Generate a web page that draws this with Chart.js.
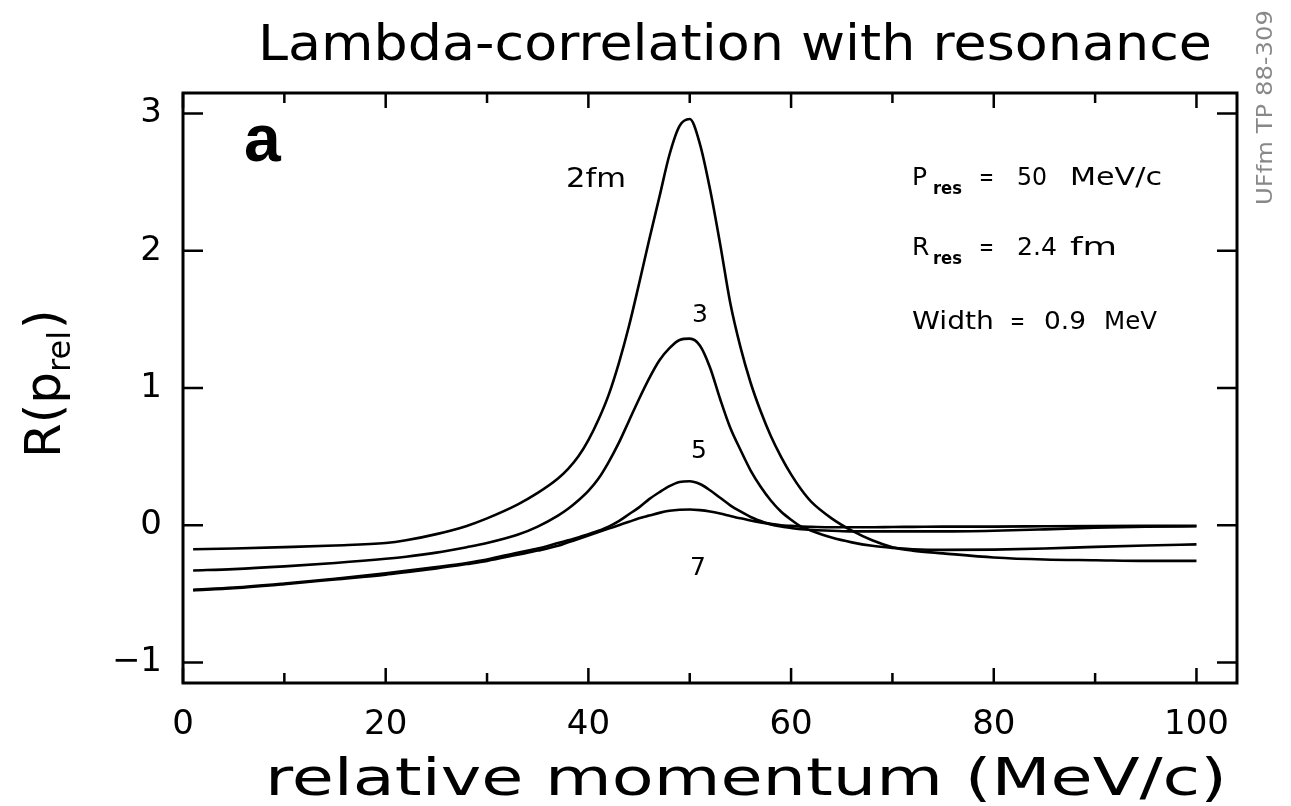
<!DOCTYPE html>
<html><head><meta charset="utf-8">
<script src="https://cdn.jsdelivr.net/npm/chart.js@4.4.1/dist/chart.umd.min.js"></script>
<style>html,body{margin:0;padding:0;background:#fff;}#wrap{width:1291px;height:806px;position:relative;}</style>
</head><body><div id="wrap"><canvas id="c"></canvas></div>
<script>
// ---- data ----
const momentum = [1,5,10,15,20,22,25,28,30,33,35,37,38,39,40,41,42,43,44,45,46,47,48,49,50,51,52,53,54,55,56,57,58,59,60,61,62,64,66,68,70,72,75,80,85,90,95,100];
const r2fm = [-0.175,-0.17,-0.16,-0.148,-0.13,-0.11,-0.065,-0.005,0.05,0.15,0.235,0.34,0.41,0.5,0.62,0.77,0.95,1.18,1.45,1.76,2.08,2.39,2.7,2.91,2.96,2.78,2.45,2.05,1.62,1.3,1.04,0.83,0.65,0.5,0.37,0.26,0.17,0.05,-0.04,-0.11,-0.16,-0.185,-0.205,-0.235,-0.25,-0.255,-0.26,-0.26];
const r3fm = [-0.33,-0.32,-0.3,-0.275,-0.245,-0.23,-0.2,-0.16,-0.13,-0.07,-0.01,0.07,0.12,0.18,0.25,0.34,0.46,0.6,0.76,0.92,1.07,1.2,1.29,1.35,1.36,1.31,1.15,0.92,0.71,0.55,0.4,0.28,0.18,0.1,0.04,-0.01,-0.04,-0.09,-0.125,-0.15,-0.165,-0.175,-0.18,-0.178,-0.17,-0.158,-0.148,-0.14];
const r5fm = [-0.47,-0.455,-0.425,-0.39,-0.35,-0.333,-0.305,-0.275,-0.25,-0.2,-0.17,-0.13,-0.11,-0.09,-0.065,-0.04,-0.01,0.03,0.08,0.13,0.19,0.24,0.285,0.315,0.32,0.3,0.255,0.2,0.145,0.1,0.06,0.03,0.005,-0.01,-0.02,-0.03,-0.035,-0.04,-0.045,-0.045,-0.045,-0.045,-0.045,-0.04,-0.03,-0.018,-0.01,-0.008];
const r7fm = [-0.475,-0.46,-0.43,-0.395,-0.36,-0.342,-0.315,-0.283,-0.26,-0.215,-0.185,-0.15,-0.125,-0.1,-0.075,-0.05,-0.025,0.0,0.025,0.05,0.07,0.09,0.105,0.113,0.115,0.11,0.1,0.085,0.067,0.05,0.035,0.02,0.01,0.0,-0.005,-0.01,-0.012,-0.015,-0.015,-0.015,-0.013,-0.012,-0.01,-0.01,-0.008,-0.006,-0.005,-0.005];
const seriesNames = ['2fm','3','5','7'];
const xTicks = [0,20,40,60,80,100];
const xMinorTicks = [10,30,50,70,90];
const yTicks = [-1,0,1,2,3];
const titleText = 'Lambda-correlation with resonance';
const xTitle = 'relative momentum (MeV/c)';
const sideNote = 'UFfm TP 88-309';

function pts(ys){ return momentum.map((x,i)=>({x:x,y:ys[i]})); }
function ds(name, ys){ return {label:name, data:pts(ys), borderColor:'#000', borderWidth:2.6, pointRadius:0, fill:false, cubicInterpolationMode:'monotone'}; }

function txt(ctx, s, x, y, o){
  ctx.save();
  ctx.font = o.font; ctx.fillStyle = o.color || '#000';
  ctx.textBaseline = o.baseline || 'alphabetic';
  ctx.textAlign = 'left';
  ctx.translate(x, y);
  if (o.rot) ctx.rotate(o.rot);
  let w = ctx.measureText(s).width, sx = 1;
  if (o.width) sx = o.width / w;
  ctx.scale(sx, 1);
  let dx = 0;
  if (o.align === 'center') dx = -w/2; else if (o.align === 'right') dx = -w;
  ctx.fillText(s, dx, 0);
  ctx.restore();
}

const decor = {
  id:'decor',
  afterDraw(chart){
    const ctx = chart.ctx, a = chart.chartArea, xs = chart.scales.x, ys = chart.scales.y;
    ctx.save();
    ctx.strokeStyle = '#000'; ctx.lineWidth = 3;
    ctx.strokeRect(a.left, a.top, a.right - a.left, a.bottom - a.top);
    ctx.lineWidth = 2.5;
    ctx.beginPath();
    xTicks.forEach(v=>{ const p = xs.getPixelForValue(v); ctx.moveTo(p,a.bottom); ctx.lineTo(p,a.bottom-15); ctx.moveTo(p,a.top); ctx.lineTo(p,a.top+15); });
    xMinorTicks.forEach(v=>{ const p = xs.getPixelForValue(v); ctx.moveTo(p,a.bottom); ctx.lineTo(p,a.bottom-10); ctx.moveTo(p,a.top); ctx.lineTo(p,a.top+10); });
    yTicks.forEach(v=>{ const p = ys.getPixelForValue(v); ctx.moveTo(a.left,p); ctx.lineTo(a.left+20,p); ctx.moveTo(a.right,p); ctx.lineTo(a.right-20,p); });
    ctx.stroke();
    ctx.restore();

    const F = 'DejaVu Sans';
    // title
    txt(ctx, titleText, 258, 60, {font:'50px "'+F+'"', width:954});
    // x axis title
    txt(ctx, xTitle, 265, 795, {font:'52px "'+F+'"', width:962});
    // y axis title R(p_rel), rotated
    ctx.save();
    ctx.translate(60, 458); ctx.rotate(-Math.PI/2);
    ctx.fillStyle = '#000'; ctx.textBaseline = 'alphabetic';
    ctx.font = '50px "'+F+'"';
    const w1 = ctx.measureText('R(p').width;
    ctx.fillText('R(p', 0, 0);
    ctx.font = '32px "'+F+'"';
    const w2 = ctx.measureText('rel').width;
    ctx.fillText('rel', w1, 10);
    ctx.font = '50px "'+F+'"';
    ctx.fillText(')', w1 + w2 + 2, 0);
    ctx.restore();
    // panel letter
    txt(ctx, 'a', 244, 161, {font:'bold 66px "Liberation Sans"'});
    // curve labels
    txt(ctx, seriesNames[0], 566, 187, {font:'26px "'+F+'"', width:60});
    txt(ctx, seriesNames[1], 700, 315, {font:'25px "'+F+'"', align:'center', baseline:'middle'});
    txt(ctx, seriesNames[2], 699, 451, {font:'25px "'+F+'"', align:'center', baseline:'middle'});
    txt(ctx, seriesNames[3], 698, 568, {font:'25px "'+F+'"', align:'center', baseline:'middle'});
    // parameter block
    const pf = '25px "'+F+'"', sf = 'bold 17px "'+F+'"';
    txt(ctx, 'P', 912, 185, {font:pf});
    txt(ctx, 'res', 933, 194, {font:sf, width:29});
    txt(ctx, '=', 979, 185, {font:pf, width:15});
    txt(ctx, '50', 1017, 185, {font:pf, width:30});
    txt(ctx, 'MeV/c', 1070, 185, {font:pf, width:92});
    txt(ctx, 'R', 912, 255, {font:pf});
    txt(ctx, 'res', 933, 264, {font:sf, width:29});
    txt(ctx, '=', 979, 255, {font:pf, width:15});
    txt(ctx, '2.4', 1017, 255, {font:pf, width:40});
    txt(ctx, 'fm', 1070, 255, {font:pf, width:47});
    txt(ctx, 'Width', 912, 329, {font:pf, width:82});
    txt(ctx, '=', 1010, 329, {font:pf, width:15});
    txt(ctx, '0.9', 1044, 329, {font:pf, width:42});
    txt(ctx, 'MeV', 1104, 329, {font:pf, width:53});
    // side note
    txt(ctx, sideNote, 1272, 205, {font:'22px "'+F+'"', rot:-Math.PI/2, width:195, color:'#888'});
  }
};

new Chart(document.getElementById('c'), {
  type:'line',
  data:{ datasets:[ds(seriesNames[0], r2fm), ds(seriesNames[1], r3fm), ds(seriesNames[2], r5fm), ds(seriesNames[3], r7fm)] },
  options:{
    responsive:true, maintainAspectRatio:false, animation:false,
    layout:{padding:{top:93, right:54, left:0, bottom:0}},
    plugins:{legend:{display:false}, tooltip:{enabled:false}, title:{display:false}},
    scales:{
      x:{type:'linear', min:0, max:104,
         afterFit:s=>{s.height = 123;},
         afterBuildTicks:s=>{s.ticks = xTicks.map(v=>({value:v}));},
         grid:{display:false, drawTicks:false}, border:{display:false},
         ticks:{color:'#000', font:{family:'DejaVu Sans', size:34}, padding:22, maxRotation:0, autoSkip:false}},
      y:{type:'linear', min:-1.15, max:3.15,
         afterFit:s=>{s.width = 183;},
         afterBuildTicks:s=>{s.ticks = yTicks.map(v=>({value:v}));},
         grid:{display:false, drawTicks:false}, border:{display:false},
         ticks:{color:'#000', font:{family:'DejaVu Sans', size:34}, padding:21, autoSkip:false,
                callback:v=> v<0 ? '\u2212'+Math.abs(v) : String(v)}}
    }
  },
  plugins:[decor]
});
</script></body></html>
